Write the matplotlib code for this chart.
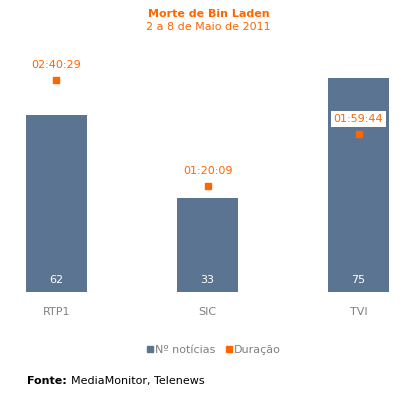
import matplotlib.pyplot as plt
from matplotlib.lines import Line2D

# data
channels = ['RTP1', 'SIC', 'TVI']
n_news = [62, 33, 75]
durations = ['02:40:29', '01:20:09', '01:59:44']

orange = '#FF6600'
bar_blue = '#5B7491'
grey = '#808080'


def to_seconds(s):
    h, m, sec = [int(v) for v in s.split(':')]
    return h * 3600 + m * 60 + sec


dur_sec = [to_seconds(d) for d in durations]

W, H = 411, 397
fig = plt.figure(figsize=(W / 100, H / 100), dpi=100)

# axes spanning pixel rows 60..292, columns 20..395
left, right, top, bottom = 20, 395, 60, 292
ax = fig.add_axes([left / W, 1 - bottom / H, (right - left) / W, (bottom - top) / H])
ax2 = ax.twinx()

x = list(range(len(channels)))
ax.bar(x, n_news, width=0.404, color=bar_blue, zorder=1)
ax.set_ylim(0, (bottom - top) / 2.853)
ax.set_xlim(-0.2417, 2.2417)

for xi, v in zip(x, n_news):
    ax.text(xi, 2.6, str(v), ha='center', va='bottom', color='white', fontsize=8)

# duration on a second axis
ax2.plot(x, dur_sec, linestyle='none', marker='s', markersize=5, color=orange, zorder=3)
ax2.set_ylim(0, (bottom - top) / 0.022)
for i, (xi, s, lab) in enumerate(zip(x, dur_sec, durations)):
    kw = {}
    if i == 2:
        kw['bbox'] = dict(boxstyle='square,pad=0.25', fc='white', ec='none')
    ax2.text(xi, s + 15 / 0.022, lab, ha='center', va='center', color=orange,
             fontsize=8, **kw)

for a in (ax, ax2):
    for sp in a.spines.values():
        sp.set_visible(False)
    a.set_yticks([])
ax.set_xticks(x)
ax.set_xticklabels(channels, color=grey, fontsize=8)
ax.tick_params(axis='x', length=0, pad=11)

fig.text(0.508, 1 - 14 / H, 'Morte de Bin Laden', ha='center', va='center',
         color=orange, fontsize=8, fontweight='bold')
fig.text(0.508, 1 - 27 / H, '2 a 8 de Maio de 2011', ha='center', va='center',
         color=orange, fontsize=8)

handles = [Line2D([], [], linestyle='none', marker='s', markersize=5, color=bar_blue),
           Line2D([], [], linestyle='none', marker='s', markersize=5, color=orange)]
leg = fig.legend(handles, ['Nº notícias', 'Duração'], loc='center',
                 bbox_to_anchor=(0.52, 1 - 350 / H), ncol=2, frameon=False,
                 fontsize=8, handlelength=0.6, handletextpad=0.2, columnspacing=0.9)
for t in leg.get_texts():
    t.set_color(grey)

src = fig.text(27 / W, 1 - 381 / H, 'Fonte:', ha='left', va='center', fontsize=8,
               fontweight='bold', color='black')
fig.add_artist(plt.Annotation('MediaMonitor, Telenews', xy=(1, 0.5), xycoords=src,
                              xytext=(3, 0), textcoords='offset points',
                              ha='left', va='center', fontsize=8, color='black'))

fig.savefig('out.png', dpi=100)
